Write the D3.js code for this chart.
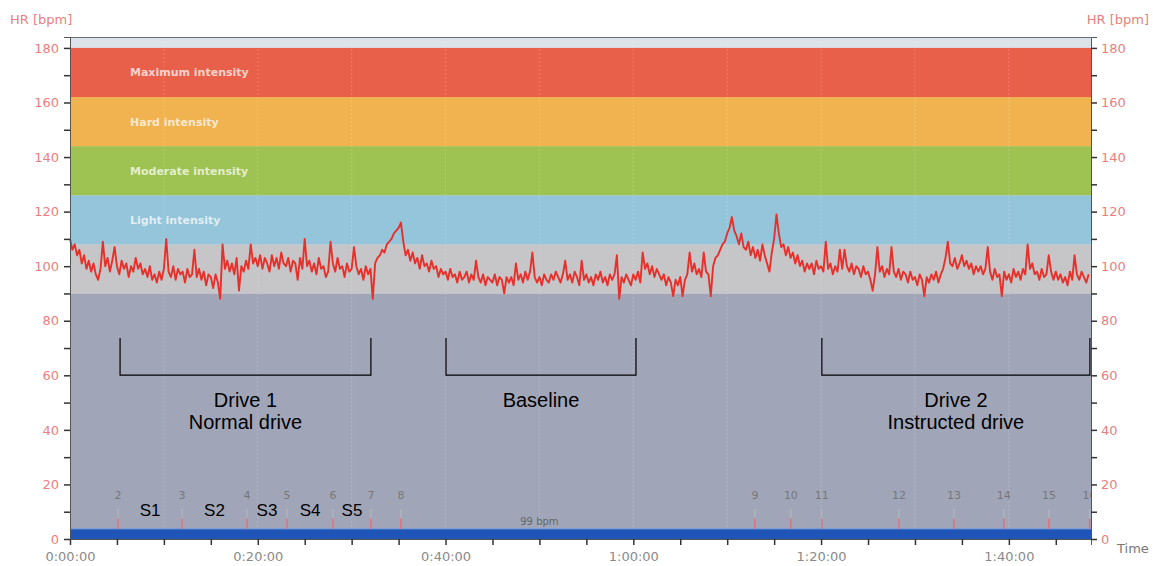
<!DOCTYPE html>
<html>
<head>
<meta charset="utf-8">
<script src="https://cdn.jsdelivr.net/npm/d3@7"></script>
<style>
  body { margin: 0; background: #fff; }
  svg text { font-family: "DejaVu Sans", Verdana, sans-serif; }
  svg text.note { font-family: "Liberation Sans", Arial, sans-serif; }
</style>
</head>
<body>
<div id="chart"></div>
<script>
// heart rate, one value every 15 s
const sampleStep = 15;
const hrValues = [
  110,106,108,104, 106,101,104,99, 102,98,101,97, 95,99,109,100, 103,98,102,107,
  100,97,102,99, 101,96,100,98, 103,99,101,97, 99,96,100,95, 97,94,98,95,
  99,110,98,96, 100,95,99,97, 98,94,99,96, 97,106,96,99, 95,98,93,97,
  96,92,97,94, 88,108,99,102, 98,101,97,103, 91,100,98,102, 99,108,101,103,
  100,104,99,103, 101,98,104,100, 103,99,105,101, 100,103,98,102, 101,95,103,99,
  110,100,102,98, 101,97,103,99, 100,96,98,109, 101,98,103,99, 100,96,101,98,
  99,107,100,97, 99,95,100,97, 99,88,101,103, 104,106,105,108, 109,110,112,113,
  114,116,109,104, 106,102,105,101, 103,99,104,100, 101,98,102,99, 100,96,99,97,
  98,95,99,96, 97,94,98,95, 96,98,94,97, 95,102,96,94, 97,93,96,95,
  94,97,93,96, 95,90,96,94, 96,93,101,95, 97,94,98,95, 98,105,96,94,
  96,93,97,95, 94,97,95,98, 96,94,97,102, 95,97,94,98, 96,93,102,95,
  97,94,96,93, 97,95,98,94, 96,93,97,95, 97,104,88,96, 94,97,95,93,
  97,95,98,94, 105,99,101,97, 100,96,99,97, 95,97,93,96, 94,89,95,93,
  96,89,95,97, 105,98,101,97, 99,96,105,98, 97,89,100,103, 104,106,108,109,
  112,114,118,113, 111,108,112,107, 106,109,104,107, 103,106,102,108, 104,101,98,105,
  110,119,112,107, 108,104,107,103, 105,101,104,100, 102,98,101,99, 101,97,102,99,
  100,98,109,99, 101,97,100,98, 106,99,106,100, 98,101,97,100, 99,96,100,97,
  98,95,91,97, 107,98,100,96, 99,97,107,98, 96,99,95,98, 97,94,98,95,
  96,93,97,95, 89,96,94,97, 95,98,94,97, 99,103,109,101, 100,103,99,101,
  104,100,102,99, 101,97,100,98, 100,97,99,107, 98,95,99,96, 97,89,98,95,
  97,94,99,96, 98,95,99,97, 108,99,101,97, 98,95,99,96, 97,104,98,95,
  98,95,97,94, 96,93,98,95, 104,97,95,98, 96,94,97
];

// intensity zones (bpm)
const zoneLimits = [90, 108, 126, 144, 162, 180];
const zoneNames = ["", "Light intensity", "Moderate intensity", "Hard intensity", "Maximum intensity"];
const zoneColors = ["#c6c5c7", "#95c5da", "#9fc352", "#f1b34f", "#e9604a"];

// lap markers (seconds)
const markerIds = [2, 3, 4, 5, 6, 7, 8, 9, 10, 11, 12, 13, 14, 15, 16];
const markerTimes = [307, 716, 1131, 1387, 1681, 1923, 2115, 4377, 4607, 4805, 5298, 5649, 5968, 6256, 6516];
const segmentNames = ["S1", "S2", "S3", "S4", "S5"];

// phases
const phaseStart = [320, 2403, 4805];
const phaseEnd = [1923, 3617, 6518];
const phaseLabels = [["Drive 1", "Normal drive"], ["Baseline"], ["Drive 2", "Instructed drive"]];

const avgHr = 99;
const timeEnd = 6525;
const yTicks = [0, 20, 40, 60, 80, 100, 120, 140, 160, 180];

const margin = { top: 37, right: 62, bottom: 27, left: 70 };
const W = 1153, H = 566;
const width = W - margin.left - margin.right;
const height = H - margin.top - margin.bottom;

const svg = d3.select("#chart").append("svg")
  .attr("width", W).attr("height", H);
const g = svg.append("g")
  .attr("transform", `translate(${margin.left},${margin.top})`);

const x = d3.scaleLinear().domain([0, timeEnd]).range([0, width]);
const y = d3.scaleLinear().domain([0, 184]).range([height, 0]);

svg.append("defs").append("clipPath").attr("id", "plotClip")
  .append("rect").attr("width", width).attr("height", height);

// background
g.append("rect").attr("width", width).attr("height", height).attr("fill", "#dde3ea");
g.append("rect").attr("y", y(zoneLimits[0])).attr("width", width)
  .attr("height", y(0) - y(zoneLimits[0])).attr("fill", "#a0a6b8");

// zones
zoneColors.forEach((c, i) => {
  g.append("rect")
    .attr("y", y(zoneLimits[i + 1]))
    .attr("width", width)
    .attr("height", y(zoneLimits[i]) - y(zoneLimits[i + 1]))
    .attr("fill", c);
  if (zoneNames[i]) {
    g.append("text")
      .attr("x", 60)
      .attr("y", y((zoneLimits[i] + zoneLimits[i + 1]) / 2) + 4)
      .attr("fill", "#fff").attr("fill-opacity", 0.72)
      .style("font-size", "11px").style("font-weight", "bold")
      .text(zoneNames[i]);
  }
});

// faint vertical grid every 10 min
g.append("g").selectAll("line")
  .data(d3.range(600, timeEnd, 600))
  .join("line")
  .attr("x1", d => x(d)).attr("x2", d => x(d))
  .attr("y1", 0).attr("y2", height)
  .attr("stroke", "#ffffff").attr("stroke-opacity", 0.18)
  .attr("stroke-dasharray", "2,2");

// heart rate line
const hrData = hrValues.map((v, i) => ({ t: i * sampleStep, v }));
g.append("path")
  .datum(hrData)
  .attr("fill", "none")
  .attr("stroke", "#e8302b")
  .attr("stroke-width", 1.9)
  .attr("stroke-linejoin", "round")
  .attr("d", d3.line().x(d => x(d.t)).y(d => y(d.v)));

// average bar
g.append("rect").attr("y", y(3.7)).attr("width", width)
  .attr("height", y(0) - y(3.7)).attr("fill", "#1f55b6");
g.append("line").attr("x1", 0).attr("x2", width)
  .attr("y1", y(3.7)).attr("y2", y(3.7))
  .attr("stroke", "#6f9de0").attr("stroke-width", 1);
g.append("text").attr("x", x(3000)).attr("y", y(5))
  .attr("text-anchor", "middle").attr("fill", "#666")
  .style("font-size", "10px").text(avgHr + " bpm");

// lap markers
const mk = g.append("g").attr("clip-path", "url(#plotClip)");
markerTimes.forEach((t, i) => {
  mk.append("line").attr("x1", x(t)).attr("x2", x(t))
    .attr("y1", y(11)).attr("y2", y(7.5))
    .attr("stroke", "#b9b9bd").attr("stroke-width", 1);
  mk.append("line").attr("x1", x(t)).attr("x2", x(t))
    .attr("y1", y(7.5)).attr("y2", y(3.7))
    .attr("stroke", "#e4707a").attr("stroke-width", 1.5);
  mk.append("text").attr("x", x(t)).attr("y", y(14.5))
    .attr("text-anchor", "middle").attr("fill", "#777")
    .style("font-size", "11px").text(markerIds[i]);
});
segmentNames.forEach((s, i) => {
  g.append("text").attr("class", "note")
    .attr("x", x((markerTimes[i] + markerTimes[i + 1]) / 2))
    .attr("y", y(8.3))
    .attr("text-anchor", "middle").attr("fill", "#000")
    .style("font-size", "17px").text(s);
});

// phase brackets
phaseStart.forEach((s, i) => {
  const x0 = x(s), x1 = x(phaseEnd[i]);
  g.append("path")
    .attr("d", `M${x0},${y(73.7)}V${y(60.1)}H${x1}V${y(73.7)}`)
    .attr("fill", "none").attr("stroke", "#000").attr("stroke-width", 1.2);
  phaseLabels[i].forEach((l, j) => {
    g.append("text").attr("class", "note")
      .attr("x", (x0 + x1) / 2)
      .attr("y", y(60.1) + 32 + j * 22)
      .attr("text-anchor", "middle").attr("fill", "#000")
      .style("font-size", "20px").text(l);
  });
});

// plot top border
g.append("line").attr("x1", 0).attr("x2", width).attr("y1", 0.5).attr("y2", 0.5)
  .attr("stroke", "#6a6e78");

// axes
const fmt = s => `${Math.floor(s / 3600)}:${String(Math.floor(s / 60) % 60).padStart(2, "0")}:00`;
const xAxis = g.append("g").attr("transform", `translate(0,${height})`)
  .call(d3.axisBottom(x).tickValues(d3.range(0, timeEnd, 300)).tickSize(6)
    .tickFormat(d => d % 1200 === 0 ? fmt(d) : ""));
xAxis.select(".domain").attr("stroke", "#555");
xAxis.selectAll(".tick line").attr("stroke", "#333").attr("stroke-width", 1.5);
xAxis.selectAll("text").attr("fill", "#8a8a8a").style("font-size", "13px").attr("dy", "1.0em");

const styleY = ax => {
  ax.select(".domain").attr("stroke", "#555");
  ax.selectAll(".tick line").attr("stroke", "#333").attr("stroke-width", 1.5);
  ax.selectAll("text").attr("fill", "#e87f7f").style("font-size", "13px");
};
const yL = g.append("g")
  .call(d3.axisLeft(y).tickValues(d3.range(0, 181, 10)).tickSize(6).tickPadding(5)
    .tickFormat(d => yTicks.includes(d) ? d : ""));
styleY(yL);
const yR = g.append("g").attr("transform", `translate(${width},0)`)
  .call(d3.axisRight(y).tickValues(d3.range(0, 181, 10)).tickSize(6).tickPadding(4)
    .tickFormat(d => yTicks.includes(d) ? d : ""));
styleY(yR);

// axis titles
svg.append("text").attr("x", 10).attr("y", 24).attr("fill", "#e87f7f")
  .style("font-size", "13px").text("HR [bpm]");
svg.append("text").attr("x", 1149).attr("y", 24).attr("text-anchor", "end")
  .attr("fill", "#e87f7f").style("font-size", "13px").text("HR [bpm]");
svg.append("text").attr("x", 1117).attr("y", 553).attr("fill", "#777")
  .style("font-size", "13px").text("Time");
</script>
</body>
</html>
